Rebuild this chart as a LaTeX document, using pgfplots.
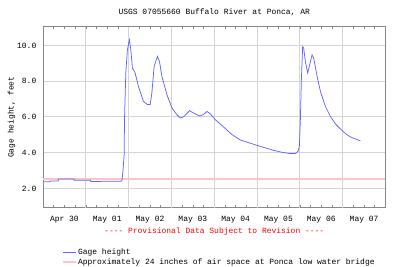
\documentclass[border=0pt]{standalone}
\usepackage{pgfplots}
\pgfplotsset{compat=1.18}
\usepackage{fontspec}
\setmainfont{Liberation Mono}
\definecolor{gageblue}{RGB}{100,100,255}
\definecolor{linepink}{RGB}{255,195,195}
\definecolor{gridgray}{RGB}{212,212,212}
\definecolor{framegray}{RGB}{135,135,135}
\begin{document}
\begin{tikzpicture}
\useasboundingbox (-43bp,-59.3bp) rectangle (357bp,207.7bp);
\begin{axis}[
  scale only axis,
  width=342.5bp, height=181bp,
  xmin=0, xmax=8, ymin=0.92, ymax=11.05,
  enlargelimits=false,
  clip=false,
  axis line style={draw=framegray, line width=0.8bp},
  font=\fontsize{8}{9.6}\selectfont,
  /pgf/number format/assume math mode=true,
  xtick={0.5,1.5,2.5,3.5,4.5,5.5,6.5,7.5},
  xticklabels={Apr 30,May 01,May 02,May 03,May 04,May 05,May 06,May 07},
  xticklabel style={anchor=north, inner sep=0pt, yshift=-8bp},
  minor xtick={0.25,0.5,0.75,1,1.25,1.5,1.75,2,2.25,2.5,2.75,3,3.25,3.5,3.75,4,4.25,4.5,4.75,5,5.25,5.5,5.75,6,6.25,6.5,6.75,7,7.25,7.5,7.75},
  extra x ticks={1,2,3,4,5,6,7},
  extra x tick labels={},
  extra x tick style={grid=major},
  ytick={2,4,6,8,10},
  yticklabel style={anchor=east, inner sep=0pt, xshift=-6.5bp},
  yticklabel={\pgfmathprintnumber[fixed,fixed zerofill,precision=1]{\tick}},
  ymajorgrids=true,
  major tick length=0pt,
  minor tick length=2.5bp,
  minor tick style={draw=framegray, line width=0.6bp},
  major grid style={draw=gridgray, line width=0.9bp},
  ylabel={Gage height, feet},
  ylabel style={at={(axis description cs:-0.092,0.5)}, anchor=center, inner sep=0pt},
  xlabel={\textcolor{red}{-{}-{}-{}- Provisional Data Subject to Revision -{}-{}-{}-}},
  xlabel style={at={(axis description cs:0.5,-0.13)}, anchor=center, inner sep=0pt},
  legend style={at={(axis description cs:0.047,-0.205)}, anchor=north west, draw=none, fill=none,
    font=\fontsize{8}{9.6}\selectfont, row sep=-0.5bp, nodes={inner sep=1.5bp}},
  legend cell align=left,
  legend image code/.code={\draw[#1] (0bp,0bp) -- (13bp,0bp);},
]
\addplot[linepink, line width=1.3bp, forget plot] coordinates {(0,2.53) (8,2.53)};
\addplot[gageblue, line width=0.75bp] coordinates {
(0.000,2.37) (0.164,2.37) (0.164,2.42) (0.358,2.42) (0.358,2.53) (0.725,2.53)
(0.725,2.45) (1.116,2.45) (1.116,2.39) (1.825,2.40) (1.845,2.46) (1.864,2.87)
(1.895,3.86) (1.905,6.00) (1.934,8.46) (1.972,9.76) (2.019,10.32) (2.051,9.76)
(2.089,8.74) (2.152,8.46) (2.229,7.71) (2.346,6.87) (2.440,6.69) (2.503,6.69)
(2.543,7.34) (2.596,8.83) (2.674,9.39) (2.721,9.10) (2.777,8.27) (2.894,7.25)
(3.011,6.50) (3.127,6.13) (3.205,5.94) (3.282,6.00) (3.422,6.35) (3.516,6.22)
(3.656,6.05) (3.750,6.13) (3.829,6.31) (3.906,6.18) (4.023,5.85) (4.218,5.44)
(4.414,5.01) (4.608,4.71) (4.802,4.56) (4.999,4.41) (5.193,4.27) (5.387,4.13)
(5.584,4.02) (5.778,3.95) (5.895,3.95) (5.958,4.08) (5.988,4.36) (6.012,5.85)
(6.035,8.08) (6.065,9.94) (6.089,9.85) (6.129,9.10) (6.183,8.46) (6.229,8.92)
(6.285,9.48) (6.323,9.30) (6.402,8.27) (6.480,7.43) (6.596,6.59) (6.713,6.03)
(6.830,5.61) (6.947,5.33) (7.064,5.07) (7.181,4.88) (7.298,4.77) (7.415,4.66)
};
\addlegendentry{Gage height}
\addlegendimage{linepink, line width=1.3bp}
\addlegendentry{Approximately 24 inches of air space at Ponca low water bridge}
\node[anchor=center, inner sep=0pt] at (rel axis cs:0.5,1.077) {USGS 07055660 Buffalo River at Ponca, AR};
\end{axis}
\end{tikzpicture}
\end{document}
